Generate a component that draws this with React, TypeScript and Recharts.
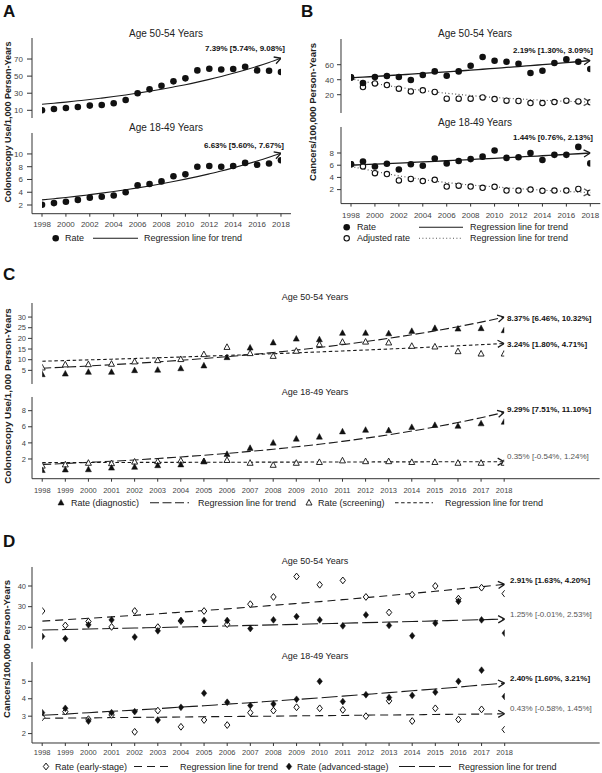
import React from "react";
import { ComposedChart, Line, Scatter, XAxis, YAxis } from "recharts";

const FONT = '"Liberation Sans", Arial, Helvetica, sans-serif';
const INK = "#111";

const years = [1998, 1999, 2000, 2001, 2002, 2003, 2004, 2005, 2006, 2007, 2008, 2009, 2010, 2011, 2012, 2013, 2014, 2015, 2016, 2017, 2018];
const evenYears = [1998, 2000, 2002, 2004, 2006, 2008, 2010, 2012, 2014, 2016, 2018];

// A: colonoscopy use per 1,000 person-years
const aOlderRate = [10.0, 11.6, 12.7, 13.9, 15.5, 16.2, 18.2, 22.1, 29.9, 34.5, 38.8, 43.9, 47.4, 56.7, 58.6, 57.8, 58.3, 61.0, 56.7, 56.3, 54.8];
const aOlderTrend = [17.0, 18.3, 19.6, 21.1, 22.6, 24.3, 26.1, 28.0, 30.1, 32.3, 34.7, 37.3, 40.0, 43.0, 46.2, 49.6, 53.3, 57.2, 61.4, 66.0, 70.9];
const aYoungRate = [2.05, 2.3, 2.5, 2.8, 3.15, 3.3, 3.5, 4.0, 5.1, 5.3, 5.7, 6.5, 6.8, 8.0, 8.1, 8.0, 8.1, 8.6, 8.3, 8.5, 9.0];
const aYoungTrend = [2.8, 2.99, 3.18, 3.39, 3.62, 3.86, 4.12, 4.39, 4.68, 4.99, 5.32, 5.67, 6.05, 6.45, 6.88, 7.33, 7.82, 8.34, 8.89, 9.48, 10.11];

// B: cancers per 100,000 person-years
const bOlderRate = [43.1, 35.6, 43.6, 44.9, 43.6, 39.6, 46.2, 51.1, 45.3, 51.1, 58.7, 70.2, 65.3, 64.0, 61.3, 48.9, 52.0, 62.2, 67.1, 64.0, 54.2];
const bOlderAdj = [43.0, 30.2, 35.1, 32.9, 28.0, 24.4, 25.8, 23.6, 14.7, 14.7, 14.7, 16.4, 14.2, 12.0, 11.6, 8.9, 8.9, 10.2, 12.0, 11.1, 9.8];
const bOlderTrend = [42.5, 43.43, 44.38, 45.35, 46.35, 47.36, 48.4, 49.46, 50.54, 51.65, 52.78, 53.93, 55.11, 56.32, 57.55, 58.81, 60.1, 61.42, 62.76, 64.14, 65.54];
const bOlderAdjTrend = [41.5, 38, 35, 32.3, 29.9, 27.6, 25.7, 23.7, 21.9, 20.4, 18.9, 17.5, 16.4, 15.3, 14.3, 13.5, 12.6, 11.9, 11.2, 10.6, 10.0];
const bYoungRate = [6.15, 6.6, 5.8, 6.25, 5.3, 6.15, 5.9, 7.1, 6.3, 6.7, 7.0, 7.4, 8.4, 7.2, 7.3, 8.0, 6.85, 7.7, 7.7, 9.0, 6.3];
const bYoungAdj = [6.15, 5.8, 4.7, 4.55, 3.5, 3.75, 3.4, 3.6, 2.5, 2.65, 2.5, 2.3, 2.45, 1.85, 1.85, 2.0, 1.8, 1.85, 1.85, 2.1, 1.5];
const bYoungTrend = [6.0, 6.09, 6.17, 6.26, 6.35, 6.44, 6.54, 6.63, 6.73, 6.83, 6.93, 7.03, 7.13, 7.23, 7.34, 7.44, 7.55, 7.66, 7.77, 7.88, 8.0];
const bYoungAdjTrend = [5.8, 5.4, 5.0, 4.6, 4.25, 3.95, 3.65, 3.4, 3.15, 2.95, 2.75, 2.6, 2.45, 2.3, 2.15, 2.05, 1.9, 1.8, 1.7, 1.6, 1.5];

// C: diagnostic vs screening colonoscopy
const cOlderDiag = [3.1, 3.4, 4.2, 4.2, 5.0, 5.2, 5.9, 7.2, 11.1, 15.6, 18.0, 19.8, 19.5, 22.5, 22.5, 22.3, 23.4, 24.8, 24.5, 24.7, 23.75];
const cOlderScreen = [6.25, 7.7, 7.8, 8.0, 9.1, 9.7, 10.2, 12.5, 15.9, 13.0, 11.7, 14.1, 17.2, 18.3, 18.4, 18.0, 16.4, 16.1, 13.9, 12.8, 12.8];
const cOlderDiagTrend = [6.0, 6.5, 7.05, 7.64, 8.27, 8.97, 9.72, 10.53, 11.41, 12.37, 13.4, 14.52, 15.74, 17.06, 18.48, 20.03, 21.71, 23.52, 25.49, 27.63, 29.94];
const cOlderScreenTrend = [9.3, 9.6, 9.91, 10.23, 10.57, 10.91, 11.26, 11.63, 12.0, 12.39, 12.8, 13.21, 13.64, 14.08, 14.54, 15.01, 15.5, 16.0, 16.52, 17.05, 17.61];
const cYoungDiag = [0.6, 0.67, 0.7, 0.9, 1.0, 1.2, 1.3, 1.7, 2.6, 3.35, 4.0, 4.5, 4.75, 5.4, 5.6, 5.55, 5.95, 6.2, 6.1, 6.4, 6.6];
const cYoungScreen = [1.15, 1.3, 1.5, 1.45, 1.65, 1.7, 1.8, 1.7, 1.85, 1.5, 1.25, 1.5, 1.6, 1.8, 1.7, 1.7, 1.6, 1.6, 1.5, 1.5, 1.5];
const cYoungDiagTrend = [1.32, 1.44, 1.58, 1.72, 1.88, 2.06, 2.25, 2.46, 2.69, 2.94, 3.21, 3.51, 3.83, 4.19, 4.58, 5.0, 5.47, 5.97, 6.53, 7.13, 7.8];
const cYoungScreenTrend = [1.55, 1.56, 1.56, 1.57, 1.57, 1.58, 1.58, 1.59, 1.59, 1.6, 1.61, 1.61, 1.62, 1.62, 1.63, 1.64, 1.64, 1.65, 1.65, 1.66, 1.66];

// D: early vs advanced stage cancers
const dOlderEarly = [27.9, 20.9, 22.8, 20.2, 27.9, 20.1, 23.0, 27.9, 21.5, 31.2, 34.7, 44.6, 40.6, 42.7, 34.7, 27.2, 35.8, 40.0, 33.9, 39.2, 36.3];
const dOlderAdv = [15.6, 14.5, 21.2, 23.6, 15.3, 18.3, 23.3, 23.3, 23.3, 19.4, 23.6, 25.2, 23.6, 20.7, 26.0, 20.9, 15.9, 22.0, 32.6, 23.6, 17.2];
const dOlderEarlyTrend = [23.0, 23.67, 24.36, 25.07, 25.8, 26.55, 27.32, 28.11, 28.93, 29.77, 30.64, 31.53, 32.45, 33.39, 34.36, 35.36, 36.39, 37.45, 38.54, 39.66, 40.82];
const dOlderAdvTrend = [18.7, 18.93, 19.17, 19.41, 19.66, 19.9, 20.15, 20.4, 20.66, 20.92, 21.18, 21.44, 21.71, 21.98, 22.26, 22.54, 22.82, 23.1, 23.39, 23.69, 23.98];
const dYoungEarly = [2.93, 3.26, 2.83, 3.07, 2.1, 3.32, 2.39, 2.78, 2.49, 3.2, 3.32, 3.51, 3.45, 3.36, 3.0, 3.88, 2.72, 3.45, 2.81, 3.39, 2.23];
const dYoungAdv = [3.2, 3.45, 2.72, 3.2, 3.26, 2.78, 3.51, 4.32, 3.8, 3.61, 3.7, 3.97, 5.0, 3.84, 4.23, 4.07, 4.19, 4.38, 5.0, 5.64, 4.13];
const dYoungEarlyTrend = [2.88, 2.89, 2.9, 2.92, 2.93, 2.94, 2.95, 2.97, 2.98, 2.99, 3.0, 3.02, 3.03, 3.04, 3.06, 3.07, 3.08, 3.1, 3.11, 3.12, 3.14];
const dYoungAdvTrend = [3.05, 3.12, 3.2, 3.28, 3.35, 3.43, 3.52, 3.6, 3.69, 3.77, 3.87, 3.96, 4.05, 4.15, 4.25, 4.35, 4.46, 4.56, 4.67, 4.79, 4.9];

type Kind = "dot" | "ring" | "tri" | "triOpen" | "dia" | "diaOpen";

interface Series {
  key: string;
  values: number[];
  kind?: Kind;
  dash?: string;
  color?: string;
  width?: number;
}

interface Panel {
  id: string;
  box: [number, number, number, number];
  yDomain: [number, number];
  yTicks: number[];
  xPad: [number, number];
  xTicks?: number[];
  xTickMargin?: number;
  yTickSize: number;
  yTickMargin: number;
  tickFont: number;
  lines: Series[];
  points: Series[];
}

function Marker({ cx, cy, kind }: { cx: number; cy: number; kind: Kind }) {
  if (cx == null || cy == null || isNaN(cx) || isNaN(cy)) return <g />;
  switch (kind) {
    case "dot":
      return <circle cx={cx} cy={cy} r={3.3} fill={INK} />;
    case "ring":
      return <circle cx={cx} cy={cy} r={2.7} fill="#fff" stroke={INK} strokeWidth={1.1} />;
    case "tri":
    case "triOpen":
      return (
        <path
          d={`M${cx},${cy - 3.3} L${cx + 3},${cy + 2.3} L${cx - 3},${cy + 2.3} Z`}
          fill={kind === "tri" ? INK : "#fff"}
          stroke={INK}
          strokeWidth={kind === "tri" ? 0.5 : 0.9}
        />
      );
    default:
      return (
        <path
          d={`M${cx},${cy - 3.4} L${cx + 2.7},${cy} L${cx},${cy + 3.4} L${cx - 2.7},${cy} Z`}
          fill={kind === "dia" ? INK : "#fff"}
          stroke={INK}
          strokeWidth={kind === "dia" ? 0.5 : 1}
        />
      );
  }
}

// open chevron at the end of each regression line
function arrowDot(color: string, last: number) {
  return (props: any) => {
    const { cx, cy, index, points } = props;
    if (index !== last || cx == null || cy == null) return <g key={`d-${index}`} />;
    let ang = 0;
    if (points && points.length > 1 && points[index - 1]) {
      const prev = points[index - 1];
      ang = Math.atan2(cy - prev.y, cx - prev.x);
    }
    const len = 6.5;
    const hw = 3.6;
    const bx = cx - len * Math.cos(ang);
    const by = cy - len * Math.sin(ang);
    const nx = -Math.sin(ang) * hw;
    const ny = Math.cos(ang) * hw;
    return (
      <path
        key={`d-${index}`}
        d={`M${bx + nx},${by + ny} L${cx},${cy} L${bx - nx},${by - ny}`}
        fill="none"
        stroke={color}
        strokeWidth={1.3}
      />
    );
  };
}

const panels: Panel[] = [
  {
    id: "a-older",
    box: [32, 38.3, 259, 80],
    yDomain: [1, 94.6],
    yTicks: [10, 30, 50, 70],
    xPad: [10, 10],
    yTickSize: 5,
    yTickMargin: 4,
    tickFont: 8,
    lines: [{ key: "trend", values: aOlderTrend, width: 1.1 }],
    points: [{ key: "rate", values: aOlderRate, kind: "dot" }]
  },
  {
    id: "a-young",
    box: [32, 133.3, 259, 80.7],
    yDomain: [0.64, 13.28],
    yTicks: [2, 4, 6, 8, 10],
    xPad: [10, 10],
    xTicks: evenYears,
    xTickMargin: 5,
    yTickSize: 5,
    yTickMargin: 4,
    tickFont: 8,
    lines: [{ key: "trend", values: aYoungTrend, width: 1.1 }],
    points: [{ key: "rate", values: aYoungRate, kind: "dot" }]
  },
  {
    id: "b-older",
    box: [340.7, 39.3, 259.3, 74],
    yDomain: [-4.4, 94.3],
    yTicks: [20, 40, 60],
    xPad: [10, 10],
    yTickSize: 4,
    yTickMargin: 3,
    tickFont: 8,
    lines: [
      { key: "adjTrend", values: bOlderAdjTrend, dash: "1 2.4", color: "#555", width: 1.2 },
      { key: "trend", values: bOlderTrend, width: 1.3 }
    ],
    points: [
      { key: "adj", values: bOlderAdj, kind: "ring" },
      { key: "rate", values: bOlderRate, kind: "dot" }
    ]
  },
  {
    id: "b-young",
    box: [340.7, 126.7, 259.3, 76.6],
    yDomain: [-0.29, 12.26],
    yTicks: [2, 4, 6, 8],
    xPad: [10, 10],
    xTicks: evenYears,
    xTickMargin: 6,
    yTickSize: 4,
    yTickMargin: 3,
    tickFont: 8,
    lines: [
      { key: "adjTrend", values: bYoungAdjTrend, dash: "1 2.4", color: "#555", width: 1.2 },
      { key: "trend", values: bYoungTrend, width: 1.3 }
    ],
    points: [
      { key: "adj", values: bYoungAdj, kind: "ring" },
      { key: "rate", values: bYoungRate, kind: "dot" }
    ]
  },
  {
    id: "c-older",
    box: [32.3, 303.3, 567.7, 81],
    yDomain: [-1.4, 36.6],
    yTicks: [5, 10, 15, 20, 25, 30],
    xPad: [10.2, 95.5],
    yTickSize: 4,
    yTickMargin: 2,
    tickFont: 7.5,
    lines: [
      { key: "screenTrend", values: cOlderScreenTrend, dash: "3.5 2.6", width: 1.1 },
      { key: "diagTrend", values: cOlderDiagTrend, dash: "9 3.5", width: 1.1 }
    ],
    points: [
      { key: "screen", values: cOlderScreen, kind: "triOpen" },
      { key: "diag", values: cOlderDiag, kind: "tri" }
    ]
  },
  {
    id: "c-young",
    box: [32.3, 397.3, 567.7, 81.7],
    yDomain: [-0.45, 9.7],
    yTicks: [2, 4, 6, 8],
    xPad: [10.2, 95.5],
    xTicks: years,
    xTickMargin: 6,
    yTickSize: 4,
    yTickMargin: 2,
    tickFont: 7.5,
    lines: [
      { key: "screenTrend", values: cYoungScreenTrend, dash: "3.5 2.6", width: 1.1 },
      { key: "diagTrend", values: cYoungDiagTrend, dash: "9 3.5", width: 1.1 }
    ],
    points: [
      { key: "screen", values: cYoungScreen, kind: "triOpen" },
      { key: "diag", values: cYoungDiag, kind: "tri" }
    ]
  },
  {
    id: "d-older",
    box: [32.3, 566.7, 567.7, 81.6],
    yDomain: [9.7, 49.2],
    yTicks: [20, 30, 40],
    xPad: [10.2, 95],
    yTickSize: 4,
    yTickMargin: 2,
    tickFont: 7.5,
    lines: [
      { key: "earlyTrend", values: dOlderEarlyTrend, dash: "8 5", width: 1.1 },
      { key: "advTrend", values: dOlderAdvTrend, dash: "16 4", width: 1.1 }
    ],
    points: [
      { key: "early", values: dOlderEarly, kind: "diaOpen" },
      { key: "adv", values: dOlderAdv, kind: "dia" }
    ]
  },
  {
    id: "d-young",
    box: [32.3, 661.7, 567.7, 81],
    yDomain: [1.46, 6.11],
    yTicks: [2, 3, 4, 5],
    xPad: [10.2, 95],
    xTicks: years,
    xTickMargin: 4,
    yTickSize: 4,
    yTickMargin: 2,
    tickFont: 7.5,
    lines: [
      { key: "earlyTrend", values: dYoungEarlyTrend, dash: "8 5", width: 1.1 },
      { key: "advTrend", values: dYoungAdvTrend, dash: "16 4", width: 1.1 }
    ],
    points: [
      { key: "early", values: dYoungEarly, kind: "diaOpen" },
      { key: "adv", values: dYoungAdv, kind: "dia" }
    ]
  }
];

function SubPlot({ p }: { p: Panel }) {
  const [left, top, width, height] = p.box;
  const axisH = p.xTicks ? 22 : 0;
  const rows = years.map((year, i) => {
    const row: Record<string, number> = { year };
    [...p.lines, ...p.points].forEach((s) => {
      row[s.key] = s.values[i];
    });
    return row;
  });
  const tickStyle = { fontSize: p.tickFont, fill: "#444", fontFamily: FONT };
  const last = years.length - 1;

  return (
    <div style={{ position: "absolute", left: left - 30, top: top - 2 }}>
      <ComposedChart
        width={width + 32}
        height={height + 4 + axisH}
        data={rows}
        margin={{ top: 2, right: 2, bottom: 2, left: 0 }}
      >
        <XAxis
          type="number"
          dataKey="year"
          domain={[1998, 2018]}
          allowDataOverflow
          padding={{ left: p.xPad[0], right: p.xPad[1] }}
          ticks={p.xTicks ?? []}
          interval={0}
          hide={!p.xTicks}
          height={axisH || 1}
          tick={tickStyle}
          tickSize={3}
          tickMargin={p.xTickMargin ?? 4}
          axisLine={{ stroke: "#333" }}
          tickLine={{ stroke: "#333" }}
        />
        <YAxis
          type="number"
          domain={p.yDomain}
          allowDataOverflow
          ticks={p.yTicks}
          interval={0}
          width={30}
          tick={tickStyle}
          tickSize={p.yTickSize}
          tickMargin={p.yTickMargin}
          axisLine={{ stroke: "#333" }}
          tickLine={{ stroke: "#333" }}
        />
        {p.lines.map((s) => (
          <Line
            key={s.key}
            dataKey={s.key}
            type="monotone"
            stroke={s.color ?? "#1a1a1a"}
            strokeWidth={s.width ?? 1.1}
            strokeDasharray={s.dash}
            dot={arrowDot(s.color ?? "#1a1a1a", last)}
            activeDot={false}
            isAnimationActive={false}
          />
        ))}
        {p.points.map((s) => (
          <Scatter
            key={s.key}
            dataKey={s.key}
            isAnimationActive={false}
            shape={(props: any) => <Marker cx={props.cx} cy={props.cy} kind={s.kind ?? "dot"} />}
          />
        ))}
      </ComposedChart>
    </div>
  );
}

interface TextProps {
  x: number;
  y: number;
  size: number;
  bold?: boolean;
  anchor?: "start" | "middle" | "end";
  fill?: string;
  rotate?: boolean;
  children: React.ReactNode;
}

function Txt({ x, y, size, bold, anchor = "start", fill = "#222", rotate, children }: TextProps) {
  return (
    <text
      x={x}
      y={y}
      fontSize={size}
      fontWeight={bold ? 700 : 400}
      textAnchor={anchor}
      dominantBaseline="central"
      fill={fill}
      fontFamily={FONT}
      transform={rotate ? `rotate(-90 ${x} ${y})` : undefined}
    >
      {children}
    </text>
  );
}

function LegendLine({ x1, x2, y, dash, color = "#1a1a1a" }: { x1: number; x2: number; y: number; dash?: string; color?: string }) {
  return <line x1={x1} x2={x2} y1={y} y2={y} stroke={color} strokeWidth={1.1} strokeDasharray={dash} />;
}

function Overlay() {
  return (
    <svg width={602} height={773} style={{ position: "absolute", left: 0, top: 0, pointerEvents: "none" }}>
      {/* panel letters */}
      <text x={3} y={17} fontSize={17} fontWeight={700} fontFamily={FONT} fill={INK}>A</text>
      <text x={301} y={17} fontSize={17} fontWeight={700} fontFamily={FONT} fill={INK}>B</text>
      <text x={3} y={280} fontSize={17} fontWeight={700} fontFamily={FONT} fill={INK}>C</text>
      <text x={3} y={547} fontSize={17} fontWeight={700} fontFamily={FONT} fill={INK}>D</text>

      {/* axis titles */}
      <Txt x={7.5} y={122} size={9} bold rotate anchor="middle">Colonoscopy Use/1,000 Person-Years</Txt>
      <Txt x={312} y={112} size={9.5} bold rotate anchor="middle">Cancers/100,000 Person-Years</Txt>
      <Txt x={7} y={396} size={9.8} bold rotate anchor="middle">Colonoscopy Use/1,000 Person-Years</Txt>
      <Txt x={6} y={649} size={9.5} bold rotate anchor="middle">Cancers/100,000 Person-Years</Txt>

      {/* subplot titles */}
      <Txt x={166} y={33} size={10} anchor="middle">Age 50-54 Years</Txt>
      <Txt x={166} y={127} size={10} anchor="middle">Age 18-49 Years</Txt>
      <Txt x={475} y={33} size={10} anchor="middle">Age 50-54 Years</Txt>
      <Txt x={475} y={122} size={10} anchor="middle">Age 18-49 Years</Txt>
      <Txt x={315} y={297} size={9} anchor="middle">Age 50-54 Years</Txt>
      <Txt x={315} y={391.5} size={9} anchor="middle">Age 18-49 Years</Txt>
      <Txt x={315} y={561} size={9} anchor="middle">Age 50-54 Years</Txt>
      <Txt x={315} y={656} size={9} anchor="middle">Age 18-49 Years</Txt>

      {/* trend annotations */}
      <Txt x={285} y={48} size={8} bold anchor="end" fill={INK}>7.39% [5.74%, 9.08%]</Txt>
      <Txt x={284} y={145} size={8} bold anchor="end" fill={INK}>6.63% [5.60%, 7.67%]</Txt>
      <Txt x={593} y={50} size={8} bold anchor="end" fill={INK}>2.19% [1.30%, 3.09%]</Txt>
      <Txt x={593} y={137} size={8} bold anchor="end" fill={INK}>1.44% [0.76%, 2.13%]</Txt>
      <Txt x={507} y={318.3} size={8} bold fill={INK}>8.37% [6.46%, 10.32%]</Txt>
      <Txt x={507} y={344} size={8} bold fill={INK}>3.24% [1.80%, 4.71%]</Txt>
      <Txt x={507} y={409} size={8} bold fill={INK}>9.29% [7.51%, 11.10%]</Txt>
      <Txt x={507} y={456.7} size={8} fill="#555">0.35% [-0.54%, 1.24%]</Txt>
      <Txt x={510} y={580} size={8} bold fill={INK}>2.91% [1.63%, 4.20%]</Txt>
      <Txt x={510} y={614} size={8} fill="#555">1.25% [-0.01%, 2.53%]</Txt>
      <Txt x={510} y={678.3} size={8} bold fill={INK}>2.40% [1.60%, 3.21%]</Txt>
      <Txt x={510} y={708.3} size={8} fill="#555">0.43% [-0.58%, 1.45%]</Txt>

      {/* legend A */}
      <Marker cx={55.7} cy={238.3} kind="dot" />
      <Txt x={65} y={238.3} size={9}>Rate</Txt>
      <LegendLine x1={93} x2={138} y={238.3} />
      <Txt x={144} y={238.3} size={9}>Regression line for trend</Txt>

      {/* legend B */}
      <Marker cx={346.7} cy={227.3} kind="dot" />
      <Txt x={357} y={227.3} size={9}>Rate</Txt>
      <LegendLine x1={419} x2={463} y={227.3} />
      <Txt x={470} y={227.3} size={9}>Regression line for trend</Txt>
      <Marker cx={346.7} cy={238.3} kind="ring" />
      <Txt x={357} y={238.3} size={9}>Adjusted rate</Txt>
      <LegendLine x1={419} x2={463} y={238.3} dash="1 2.4" color="#555" />
      <Txt x={470} y={238.3} size={9}>Regression line for trend</Txt>

      {/* legend C */}
      <Marker cx={61} cy={502.7} kind="tri" />
      <Txt x={71} y={502.7} size={9}>Rate (diagnostic)</Txt>
      <LegendLine x1={150} x2={189} y={502.7} dash="9 3.5" />
      <Txt x={198} y={502.7} size={9}>Regression line for trend</Txt>
      <Marker cx={309} cy={502.7} kind="triOpen" />
      <Txt x={318} y={502.7} size={9}>Rate (screening)</Txt>
      <LegendLine x1={395} x2={433} y={502.7} dash="3.5 2.6" />
      <Txt x={445} y={502.7} size={9}>Regression line for trend</Txt>

      {/* legend D */}
      <Marker cx={46} cy={766.5} kind="diaOpen" />
      <Txt x={55} y={766.5} size={9}>Rate (early-stage)</Txt>
      <LegendLine x1={134} x2={172} y={766.5} dash="8 5" />
      <Txt x={180} y={766.5} size={9}>Regression line for trend</Txt>
      <Marker cx={289} cy={766.5} kind="dia" />
      <Txt x={297} y={766.5} size={9}>Rate (advanced-stage)</Txt>
      <LegendLine x1={399} x2={451} y={766.5} dash="16 4" />
      <Txt x={458.5} y={766.5} size={9}>Regression line for trend</Txt>
    </svg>
  );
}

export default function App() {
  return (
    <div
      style={{
        position: "absolute",
        left: 0,
        top: 0,
        width: 602,
        height: 773,
        background: "#fff",
        overflow: "hidden",
        fontFamily: FONT
      }}
    >
      {panels.map((p) => (
        <SubPlot key={p.id} p={p} />
      ))}
      <Overlay />
    </div>
  );
}
